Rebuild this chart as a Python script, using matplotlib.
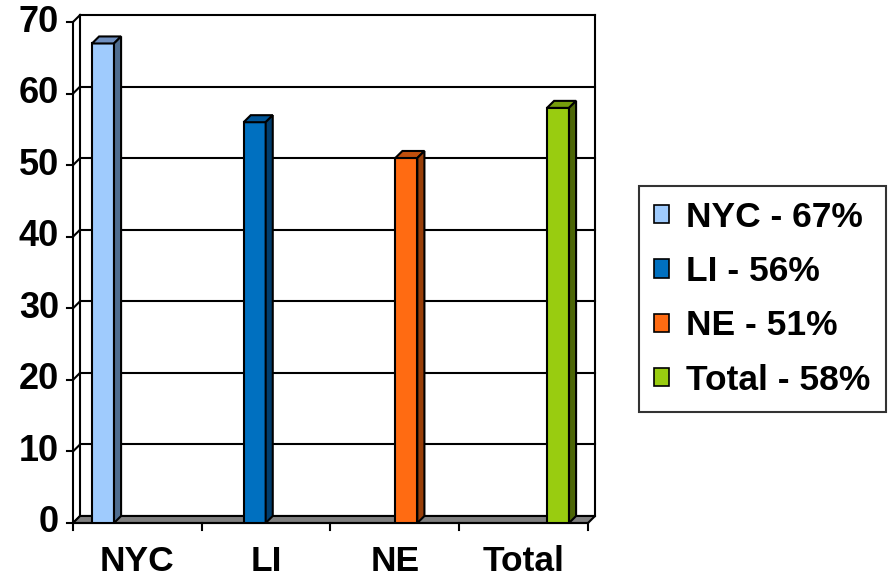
import numpy as np
import matplotlib.pyplot as plt
from matplotlib.patches import Polygon, Patch

plt.rcParams['font.family'] = ['Liberation Sans', 'DejaVu Sans']
plt.rcParams['font.weight'] = 'bold'

# data
regions = ['NYC', 'LI', 'NE', 'Total']
values = [67, 56, 51, 58]
front_colors = ['#9fcbfd', '#0070c0', '#ff6b12', '#99cc10']
top_colors = ['#6f8fbf', '#005597', '#c04f0d', '#769c0c']
side_colors = ['#4f6d8f', '#003d6d', '#983e08', '#4c6606']
y_ticks = list(range(0, 80, 10))

fig = plt.figure(figsize=(8.92, 5.80), dpi=100)
ax = fig.add_axes([73 / 892, 57 / 580, 515 / 892, 501 / 580])
ax.set_xlim(0, 4)
ax.set_ylim(0, 70)
ax.axis('off')

lw = 1.5
dx, dy = 0.055, 0.98  # depth of the 3d box, in data units

# back wall gridlines and frame
for y in y_ticks:
    ax.plot([dx, 4 + dx], [y + dy, y + dy], color='black', lw=lw, zorder=1, clip_on=False)
    ax.plot([0, dx], [y, y + dy], color='black', lw=lw, zorder=1, clip_on=False)
    ax.plot([-0.05, 0], [y, y], color='black', lw=lw, zorder=1, clip_on=False)
    ax.text(-0.11, y, str(y), ha='right', va='center', fontsize=26, fontweight='bold')
ax.plot([0, 0], [0, 70], color='black', lw=lw, zorder=1, clip_on=False)
ax.plot([dx, dx], [dy, 70 + dy], color='black', lw=lw, zorder=1, clip_on=False)
ax.plot([4 + dx, 4 + dx], [dy, 70 + dy], color='black', lw=lw, zorder=1, clip_on=False)

# floor
floor = Polygon([(0, 0), (4, 0), (4 + dx, dy), (dx, dy)], closed=True,
                facecolor='#808080', edgecolor='black', lw=lw, zorder=2, clip_on=False)
ax.add_patch(floor)

# category axis
ax.plot([0, 4], [0, 0], color='black', lw=lw, zorder=2, clip_on=False)
for i in range(5):
    ax.plot([i, i], [0, -0.95], color='black', lw=lw, zorder=2, clip_on=False)
for i, name in enumerate(regions):
    ax.text(i + 0.5, -6.75, name, ha='center', va='baseline', fontsize=25.5, fontweight='bold')

# 3d columns
width = 0.171
centers = 0.233 + 1.178 * np.arange(len(values))
ax.bar(centers, values, width, color=front_colors, edgecolor='black', lw=lw, zorder=3)
for xc, v, tc, sc in zip(centers, values, top_colors, side_colors):
    x0, x1 = xc - width / 2, xc + width / 2
    top = Polygon([(x0, v), (x0 + dx, v + dy), (x1 + dx, v + dy), (x1, v)], closed=True,
                  facecolor=tc, edgecolor='black', lw=lw, zorder=3, clip_on=False)
    side = Polygon([(x1, 0), (x1, v), (x1 + dx, v + dy), (x1 + dx, dy)], closed=True,
                   facecolor=sc, edgecolor='black', lw=lw, zorder=3, clip_on=False)
    ax.add_patch(top)
    ax.add_patch(side)

# legend
handles = [Patch(facecolor=c, edgecolor='black', lw=1.2) for c in front_colors]
labels = [f'{n} - {v}%' for n, v in zip(regions, values)]
leg = fig.legend(handles, labels, loc='upper left', bbox_to_anchor=(639 / 892, 1 - 186 / 580),
                 fontsize=25.5, frameon=True, fancybox=False, edgecolor='black',
                 handlelength=0.42, handleheight=0.42, handletextpad=0.5,
                 labelspacing=0.6, borderpad=0.42, borderaxespad=0)
leg.get_frame().set_linewidth(1.5)
for t in leg.get_texts():
    t.set_fontweight('bold')

fig.savefig('out.png', dpi=100)
